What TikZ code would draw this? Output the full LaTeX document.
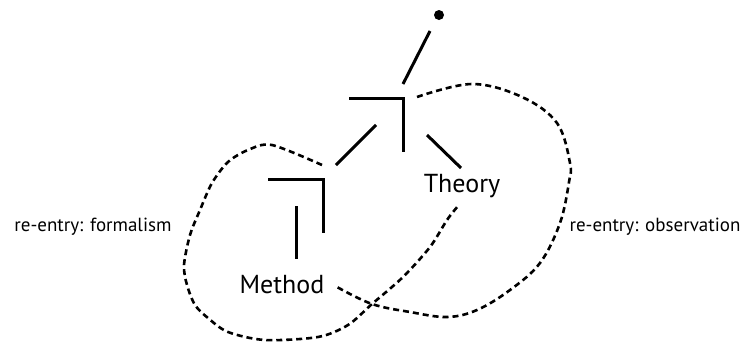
\documentclass[tikz,border=0pt]{standalone}
\usepackage{fontspec}
\setmainfont{PT Sans}
\begin{document}
\begin{tikzpicture}[x=1pt,y=-1pt,
  crossmark/.style={line width=3pt},
  link/.style={line width=3pt},
  reentry/.style={line width=2.6pt, dash pattern=on 6pt off 4pt},
  term/.style={anchor=base, inner sep=0pt, font=\fontsize{26}{26}\selectfont},
  lab/.style={anchor=base, inner sep=0pt, font=\fontsize{19}{19}\selectfont}]
\useasboundingbox (0,0) rectangle (746,346);
% unmarked state dot
\node[circle, fill=black, inner sep=0pt, minimum size=10pt] (dot) at (439,15) {};
% text nodes
\node[term] (theory) at (462,192) {Theory};
\node[term] (method) at (282,293) {Method};
\node[lab] (lformal) at (93,231) {re-entry: formalism};
\node[lab] (lobserv) at (655,231) {re-entry: observation};
% marks
\coordinate (m1a) at (349,98); \coordinate (m1b) at (403,98); \coordinate (m1c) at (403,152);
\coordinate (m2a) at (268,179); \coordinate (m2b) at (323,179); \coordinate (m2c) at (323,233);
\draw[crossmark] (m1a) -- (m1b) -- (m1c);
\draw[crossmark] (m2a) -- (m2b) -- (m2c);
% links
\draw[link] (430,31) -- (403,84);
\draw[link] (376,125) -- (336,165);
\draw[link] (427,135) -- (461,168);
\draw[link] (296,206) -- (296,259);
% re-entry: formalism
\draw[reentry] plot[smooth, tension=0.5] coordinates {(322,165) (272,145) (248,150) (228,162) (212,183) (200,210) (190,235) (184,265) (187,285) (195,305) (208,318) (228,332) (265,340) (318,337) (348,325) (372,304) (403,277) (430,247) (447,220) (458,206)};
% re-entry: observation
\draw[reentry] plot[smooth, tension=0.6] coordinates {(417,97) (472,84) (522,97) (557,123) (570,163) (569,182) (560,223) (540,263) (510,290) (477,310) (447,317) (410,312) (372,304) (337,287)};
\end{tikzpicture}
\end{document}
